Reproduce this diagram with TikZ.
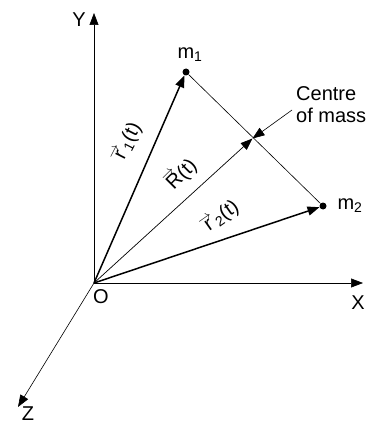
\documentclass[tikz,border=0pt]{standalone}
\usepackage{fontspec}
\setmainfont{Liberation Sans}
\usetikzlibrary{arrows.meta, positioning, calc}

% letter with an arrow over it
\newcommand{\arrowover}[1]{\leavevmode\vbox{\offinterlineskip
    \halign{\hfil##\hfil\cr$\scriptstyle\rightarrow$\cr
    \noalign{\kern-1pt}#1\cr}}}
\newcommand{\veclabel}[2]{\arrowover{#1}\textsubscript{#2}(t)}

\begin{document}
\begin{tikzpicture}[x=1pt, y=-1pt,
    every node/.style={font=\fontsize{20}{22}\selectfont, inner sep=0pt},
    axis/.style={-{Triangle[length=12pt, width=9pt]}, line width=0.6pt},
    posvec/.style={-{Triangle[length=12pt, width=9pt]}, line width=1.5pt},
    cmvec/.style={-{Triangle[length=12pt, width=9pt]}, line width=0.7pt},
    mass/.style={circle, fill, minimum size=7pt}]
    \useasboundingbox (0,0) rectangle (373,425);

    % axes
    \coordinate (O) at (94,283);
    \coordinate (yend) at (94,13);
    \coordinate (xend) at (363,283);
    \coordinate (zend) at (18,407);
    \draw[axis] (O) -- (yend);
    \draw[axis] (O) -- (xend);
    \draw[axis] (O) -- (zend);
    \node (ylbl) at (79,20) {Y};
    \node (xlbl) at (358,303) {X};
    \node (zlbl) at (28,414) {Z};
    \node (olbl) at (101,297) {O};

    % masses and centre of mass
    \node[mass] (m1) at (186,72) {};
    \node[mass] (m2) at (323,206) {};
    \node (m1lbl) at (190,55) {m\textsubscript{1}};
    \node (m2lbl) at (350,206) {m\textsubscript{2}};
    \coordinate (com) at (252.5,138.5);
    \draw[line width=0.6pt] (m1) -- (m2);

    \draw[posvec] (O) -- (m1);
    \draw[posvec] (O) -- (m2);
    \draw[cmvec] (O) -- (com);

    \node[rotate=63] (r1lbl) at (127,143) {\veclabel{r}{1}};
    \node[rotate=45] (rlbl) at (181,174) {\veclabel{R}{}};
    \node[rotate=35] (r2lbl) at (220,217) {\veclabel{r}{2}};

    \node[align=left, anchor=west] (comlbl) at (296,105) {Centre\\of mass};
    \coordinate (comtail) at (292,110);
    \draw[axis] (comtail) -- (com);
\end{tikzpicture}
\end{document}
